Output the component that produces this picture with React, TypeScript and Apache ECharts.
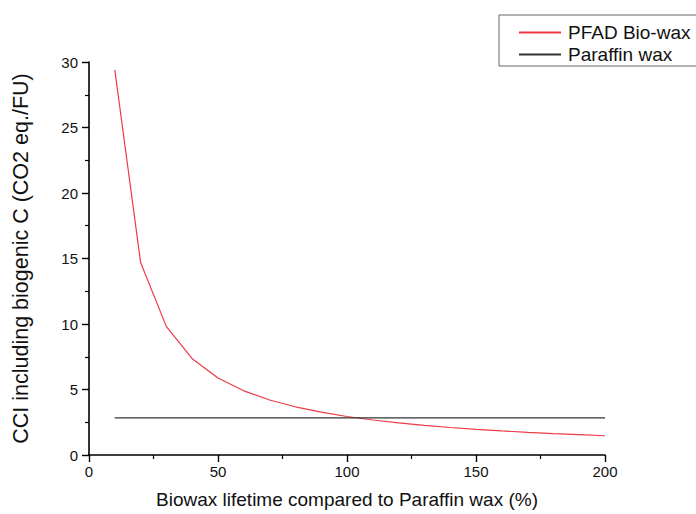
import React, { useEffect, useRef } from "react";
import * as echarts from "echarts";

// Biowax lifetime relative to paraffin wax (%)
const lifetimePct = [10, 20, 30, 40, 50, 60, 70, 80, 90, 100, 110, 120, 130, 140, 150, 160, 170, 180, 190, 200];
// CCI including biogenic carbon for the PFAD bio-wax (CO2 eq./FU)
const pfadCci = [29.4, 14.7, 9.8, 7.35, 5.88, 4.9, 4.2, 3.68, 3.27, 2.94, 2.67, 2.45, 2.26, 2.1, 1.96, 1.84, 1.73, 1.63, 1.55, 1.47];
// Paraffin wax reference level (constant across the lifetime range)
const paraffinRange = [10, 200];
const paraffinCci = 2.84;

const seriesNames = ["PFAD Bio-wax", "Paraffin wax"];
const xTitle = "Biowax lifetime compared to Paraffin wax (%)";
const yTitle = "CCI including biogenic C (CO2 eq./FU)";

const FONT = "Liberation Sans, Arial, Helvetica, sans-serif";

export default function App() {
  const ref = useRef<HTMLDivElement>(null);

  useEffect(() => {
    if (!ref.current) return;
    const chart = echarts.init(ref.current, undefined, { renderer: "svg" });

    const axisCommon = {
      axisLine: { show: true, onZero: false, lineStyle: { color: "#000", width: 1.6 } },
      axisTick: { show: true, inside: false, length: 7, lineStyle: { color: "#000", width: 1.4 } },
      minorTick: { show: true, splitNumber: 2, length: 4, lineStyle: { color: "#000", width: 1.2 } },
      splitLine: { show: false },
      minorSplitLine: { show: false },
      axisLabel: { color: "#111", fontSize: 15, fontFamily: FONT },
    };

    chart.setOption({
      animation: false,
      backgroundColor: "#fff",
      grid: { left: 89, right: 91, top: 62, bottom: 59, containLabel: false },
      legend: {
        orient: "vertical",
        left: 499,
        top: 15,
        data: seriesNames,
        itemWidth: 42,
        itemHeight: 18,
        itemGap: 3,
        padding: [8, 200, 2, 19],
        borderColor: "#666",
        borderWidth: 1,
        itemStyle: { opacity: 0 },
        textStyle: { color: "#111", fontSize: 19, fontFamily: FONT, lineHeight: 18, padding: [0, 0, 0, 2] },
      },
      xAxis: {
        ...axisCommon,
        type: "value",
        min: 0,
        max: 200,
        interval: 50,
        name: xTitle,
        nameLocation: "middle",
        nameGap: 35,
        nameTextStyle: { color: "#111", fontSize: 19, fontFamily: FONT },
        axisLabel: { ...axisCommon.axisLabel, margin: 9 },
      },
      yAxis: {
        ...axisCommon,
        type: "value",
        min: 0,
        max: 30,
        interval: 5,
        name: yTitle,
        nameLocation: "middle",
        nameGap: 57,
        nameTextStyle: { color: "#111", fontSize: 21.5, fontFamily: FONT },
        axisLabel: { ...axisCommon.axisLabel, margin: 11 },
      },
      series: [
        {
          name: seriesNames[0],
          type: "line",
          symbol: "none",
          data: lifetimePct.map((x, i) => [x, pfadCci[i]]),
          lineStyle: { color: "#ee3a44", width: 1.2 },
          itemStyle: { color: "#ee3a44" },
        },
        {
          name: seriesNames[1],
          type: "line",
          symbol: "none",
          data: paraffinRange.map((x) => [x, paraffinCci]),
          lineStyle: { color: "#333", width: 1.2 },
          itemStyle: { color: "#333" },
        },
      ],
    });

    return () => chart.dispose();
  }, []);

  return (
    <div
      ref={ref}
      style={{ position: "fixed", left: 0, top: 0, width: 696, height: 514, background: "#fff" }}
    />
  );
}
